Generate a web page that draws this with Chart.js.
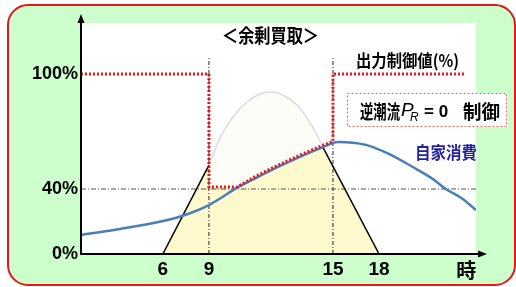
<!DOCTYPE html>
<html lang="ja">
<head>
<meta charset="UTF-8">
<title>余剰買取</title>
<script src="https://cdn.jsdelivr.net/npm/chart.js@4.4.0/dist/chart.umd.min.js"></script>
<style>
  body { margin: 0; background: #fff; }
  canvas { display: block; }
</style>
</head>
<body>
<canvas id="chart" width="516" height="287"></canvas>
<script>
// the figure is schematic, so hours are positions on the drawing rather than true clock spacing
const xTickPos = [6.77, 9, 15, 17.23, 21.45];
const xTickLabels = ['6', '9', '15', '18', '時'];
const yTickPos = [0, 36.1, 100];
const yTickLabels = ['0%', '40%', '100%'];

// PV generation: straight sides and the curtailed bell in between
const riseHours = [6.77, 9];
const riseValues = [0, 49.4];
const fallHours = [14.51, 17.23];
const fallValues = [59.4, 0];
const bellHours = [9, 9.53, 10.16, 10.84, 11.47, 12.05, 12.58, 13.26, 13.74, 14.23, 14.51];
const bellValues = [49.4, 64.4, 76.1, 84.4, 88.9, 90.0, 88.3, 82.8, 75.6, 66.1, 59.4];

// 自家消費
const loadHours = [2.81, 4.70, 6.78, 7.69, 9, 10.35, 11.27, 12.19, 13.40, 14.51, 15.24, 16.59, 17.70, 18.86, 19.83, 20.46, 21.28, 21.92];
const loadValues = [10.6, 13.9, 18.3, 21.1, 27.2, 36.7, 42.2, 47.5, 53.9, 59.4, 62.2, 60.6, 55.6, 48.3, 41.7, 36.1, 30.6, 24.4];

// 出力制御値(%)
const ctrlHours = [2.81, 9, 9, 10.35, 11.27, 12.19, 13.40, 14.51, 15, 15, 21.43];
const ctrlValues = [100, 100, 37.2, 37.2, 43.2, 48.5, 54.9, 60.4, 62.5, 100, 100];

// actual PV output (yellow area)
const outHours = [6.77, 9, 9, 10.35, 11.27, 12.19, 13.40, 14.51, 17.23];
const outValues = [0, 49.4, 37.2, 37.2, 42.2, 47.5, 53.9, 59.4, 0];

// guide lines
const guideHours = [9, 15];
const guideTop = 109.4;
const level40 = 36.1;

const xMin = 2.81, xMax = 21.92, yMax = 128.3;

const pts = (xs, ys) => xs.map((x, i) => ({ x: x, y: ys[i] }));
const CJK = '"Noto Sans CJK JP"';
const LAT = '"Liberation Sans", Arial';

function line(data, color, width, extra) {
  return Object.assign({
    data: data, borderColor: color, borderWidth: width,
    pointRadius: 0, fill: false, tension: 0
  }, extra || {});
}

const datasets = [
  line(pts(bellHours, bellValues), '#dcdcdc', 1.5, { fill: 'origin', backgroundColor: 'rgba(250,250,232,0.35)', cubicInterpolationMode: 'monotone', order: 9 }),
  line(pts(outHours, outValues), 'rgba(0,0,0,0)', 0, { fill: 'origin', backgroundColor: '#fefacd', order: 8 }),
  line(pts([xMin, xMax], [level40, level40]), '#555', 1, { borderDash: [5, 2, 1, 2], order: 7 }),
];
guideHours.forEach(h => {
  datasets.push(line(pts([h, h], [0, guideTop]), '#222', 1, { borderDash: [4, 2, 1, 2], order: 7 }));
});
datasets.push(
  line(pts(riseHours, riseValues), '#000', 1.5, { order: 6 }),
  line(pts(fallHours, fallValues), '#000', 1.5, { order: 6 }),
  line(pts(loadHours, loadValues), '#4a7ebb', 2.5, { cubicInterpolationMode: 'monotone', order: 4 }),
  line(pts(ctrlHours, ctrlValues), '#e8141e', 3, { borderDash: [2, 2], borderCapStyle: 'butt', order: 3 })
);

function roundRect(ctx, x, y, w, h, r) {
  ctx.beginPath();
  ctx.moveTo(x + r, y);
  ctx.lineTo(x + w - r, y);
  ctx.arcTo(x + w, y, x + w, y + r, r);
  ctx.lineTo(x + w, y + h - r);
  ctx.arcTo(x + w, y + h, x + w - r, y + h, r);
  ctx.lineTo(x + r, y + h);
  ctx.arcTo(x, y + h, x, y + h - r, r);
  ctx.lineTo(x, y + r);
  ctx.arcTo(x, y, x + r, y, r);
  ctx.closePath();
}

const backdrop = {
  id: 'backdrop',
  beforeDraw(chart) {
    const { ctx, chartArea: a } = chart;
    ctx.save();
    ctx.fillStyle = '#fff';
    ctx.fillRect(0, 0, chart.width, chart.height);
    roundRect(ctx, 8, 5, 507, 280, 20);
    ctx.fillStyle = '#ccffcc';
    ctx.fill();
    ctx.lineWidth = 2;
    ctx.strokeStyle = '#e01818';
    ctx.stroke();
    ctx.fillStyle = '#fff';
    ctx.fillRect(a.left, a.top, a.right - a.left, a.bottom - a.top);
    ctx.restore();
  }
};

function arrowHead(ctx, x, y, dir) {
  ctx.beginPath();
  if (dir === 'up') {
    ctx.moveTo(x, y); ctx.lineTo(x - 3.5, y + 9); ctx.lineTo(x + 3.5, y + 9);
  } else {
    ctx.moveTo(x, y); ctx.lineTo(x - 9, y - 3.5); ctx.lineTo(x - 9, y + 3.5);
  }
  ctx.closePath();
  ctx.fill();
}

const overlay = {
  id: 'overlay',
  afterDraw(chart) {
    const { ctx, chartArea: a } = chart;
    ctx.save();
    // axes with arrows
    ctx.strokeStyle = '#000';
    ctx.fillStyle = '#000';
    ctx.lineWidth = 2;
    ctx.beginPath();
    ctx.moveTo(a.left, 16);
    ctx.lineTo(a.left, a.bottom);
    ctx.lineTo(a.right + 8, a.bottom);
    ctx.stroke();
    arrowHead(ctx, a.left, 14, 'up');
    arrowHead(ctx, a.right + 11, a.bottom, 'right');

    ctx.textBaseline = 'middle';
    ctx.textAlign = 'left';
    ctx.fillStyle = '#000';
    ctx.font = 'bold 19px ' + CJK;
    ctx.fillText('＜余剰買取＞', 222, 36, 97);
    ctx.font = 'bold 17px ' + CJK;
    ctx.fillText('出力制御値(%)', 356, 61, 103);

    // 逆潮流 box
    ctx.fillStyle = '#fff';
    ctx.fillRect(347, 93, 160, 34);
    ctx.strokeStyle = '#e06a6a';
    ctx.lineWidth = 1;
    ctx.setLineDash([2, 2]);
    ctx.strokeRect(347.5, 93.5, 159, 33);
    ctx.setLineDash([]);
    ctx.fillStyle = '#000';
    ctx.font = 'bold 19px ' + CJK;
    ctx.fillText('逆潮流', 360, 112, 40);
    ctx.font = 'italic 19px ' + LAT;
    ctx.fillText('P', 401, 111);
    ctx.font = 'italic 12px ' + LAT;
    ctx.fillText('R', 410, 118);
    ctx.font = 'bold 17px ' + LAT;
    ctx.fillText('= 0', 424, 112, 25);
    ctx.font = 'bold 19px ' + CJK;
    ctx.fillText('制御', 463, 112, 37);

    ctx.fillStyle = '#1f1fa6';
    ctx.font = 'bold 17px ' + CJK;
    ctx.fillText('自家消費', 415, 153, 62);
    ctx.restore();
  }
};

new Chart(document.getElementById('chart'), {
  type: 'line',
  data: { datasets: datasets },
  options: {
    responsive: false,
    animation: false,
    layout: { padding: { top: 23, right: 40, left: 0, bottom: 0 } },
    plugins: { legend: { display: false }, tooltip: { enabled: false } },
    scales: {
      x: {
        type: 'linear', min: xMin, max: xMax,
        grid: { display: false, drawTicks: false },
        border: { display: false },
        afterFit: s => { s.height = 33; },
        afterBuildTicks: s => { s.ticks = xTickPos.map(v => ({ value: v })); },
        ticks: {
          autoSkip: false, maxRotation: 0, padding: 4, color: '#000',
          callback: (v, i) => xTickLabels[i],
          font: c => (xTickLabels[c.index] === '時'
            ? { family: CJK, size: 20, weight: 'bold' }
            : { family: LAT, size: 19, weight: 'bold' })
        }
      },
      y: {
        type: 'linear', min: 0, max: yMax,
        grid: { display: false, drawTicks: false },
        border: { display: false },
        afterFit: s => { s.width = 81; },
        afterBuildTicks: s => { s.ticks = yTickPos.map(v => ({ value: v })); },
        ticks: {
          padding: 3, color: '#000',
          callback: (v, i) => yTickLabels[i],
          font: { family: LAT, size: 18, weight: 'bold' }
        }
      }
    }
  },
  plugins: [backdrop, overlay]
});
</script>
</body>
</html>
